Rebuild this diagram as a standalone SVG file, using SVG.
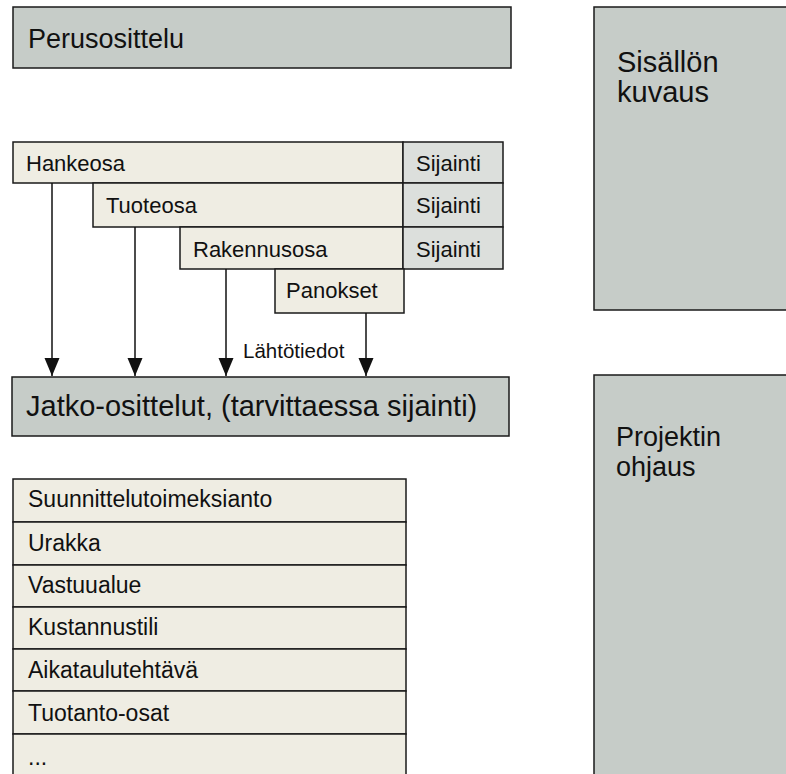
<svg xmlns="http://www.w3.org/2000/svg" width="786" height="774" viewBox="0 0 786 774">
  <style>
    .dark { fill: #c6ccc8; stroke: #1a1a1a; stroke-width: 1.5; }
    .light { fill: #efede3; stroke: #1a1a1a; stroke-width: 1.5; }
    .loc { fill: #dcdfdc; stroke: #1a1a1a; stroke-width: 1.5; }
    text { font-family: "Liberation Sans", Arial, sans-serif; fill: #111; }
    .big { font-size: 27px; }
    .side { font-size: 29px; }
    .wide { font-size: 29px; }
    .mid { font-size: 22px; }
    .list { font-size: 23px; }
    .small { font-size: 20.5px; }
    .conn { stroke: #111; stroke-width: 1.5; fill: none; marker-end: url(#arrow); }
  </style>
  <defs>
    <marker id="arrow" markerWidth="18" markerHeight="16" refX="18" refY="8" orient="auto" markerUnits="userSpaceOnUse">
      <path d="M0,0.5 L18,8 L0,15.5 Z" fill="#111"/>
    </marker>
  </defs>
  <rect width="786" height="774" fill="#ffffff"/>

  <g id="perusosittelu">
    <rect class="dark" x="13" y="7" width="498" height="61"/>
    <text class="big" x="28" y="48">Perusosittelu</text>
  </g>

  <g id="sisallon-kuvaus">
    <rect class="dark" x="594" y="7" width="200" height="303"/>
    <text class="side" x="617" y="72">Sisällön</text>
    <text class="side" x="617" y="102">kuvaus</text>
  </g>

  <g id="projektin-ohjaus">
    <rect class="dark" x="594" y="375" width="200" height="410"/>
    <text class="big" x="616" y="446">Projektin</text>
    <text class="big" x="616" y="476">ohjaus</text>
  </g>

  <g id="hankeosa">
    <rect class="light" x="13" y="142" width="390" height="41"/>
    <text class="mid" x="26" y="171">Hankeosa</text>
    <rect class="loc" x="403" y="142" width="100" height="41"/>
    <text class="mid" x="416" y="171">Sijainti</text>
  </g>

  <g id="tuoteosa">
    <rect class="light" x="93" y="183" width="310" height="44"/>
    <text class="mid" x="106" y="213">Tuoteosa</text>
    <rect class="loc" x="403" y="183" width="100" height="44"/>
    <text class="mid" x="416" y="213">Sijainti</text>
  </g>

  <g id="rakennusosa">
    <rect class="light" x="180" y="227" width="223" height="42"/>
    <text class="mid" x="193" y="256.5">Rakennusosa</text>
    <rect class="loc" x="403" y="227" width="100" height="42"/>
    <text class="mid" x="416" y="256.5">Sijainti</text>
  </g>

  <g id="panokset">
    <rect class="light" x="275" y="269" width="129" height="44"/>
    <text class="mid" x="286" y="298">Panokset</text>
  </g>

  <g id="jatko-osittelut">
    <rect class="dark" x="12" y="377" width="497" height="59"/>
    <text class="wide" x="26" y="416">Jatko-osittelut, (tarvittaessa sijainti)</text>
  </g>

  <g id="connectors">
    <line class="conn" x1="52" y1="183" x2="52" y2="376"/>
    <line class="conn" x1="135" y1="227" x2="135" y2="376"/>
    <line class="conn" x1="226" y1="269" x2="226" y2="376"/>
    <line class="conn" x1="366" y1="313" x2="366" y2="376"/>
    <text class="small" x="243" y="358">Lähtötiedot</text>
  </g>

  <g id="luettelo">
    <rect class="light" x="13" y="479" width="393" height="43"/>
    <text class="list" x="28" y="507">Suunnittelutoimeksianto</text>
    <rect class="light" x="13" y="522" width="393" height="43"/>
    <text class="list" x="28" y="551">Urakka</text>
    <rect class="light" x="13" y="565" width="393" height="42"/>
    <text class="list" x="28" y="593">Vastuualue</text>
    <rect class="light" x="13" y="607" width="393" height="42"/>
    <text class="list" x="28" y="635">Kustannustili</text>
    <rect class="light" x="13" y="649" width="393" height="42"/>
    <text class="list" x="28" y="677.5">Aikataulutehtävä</text>
    <rect class="light" x="13" y="691" width="393" height="43"/>
    <text class="list" x="28" y="720.5">Tuotanto-osat</text>
    <rect class="light" x="13" y="734" width="393" height="60"/>
    <text class="list" x="28" y="765">...</text>
  </g>
</svg>
